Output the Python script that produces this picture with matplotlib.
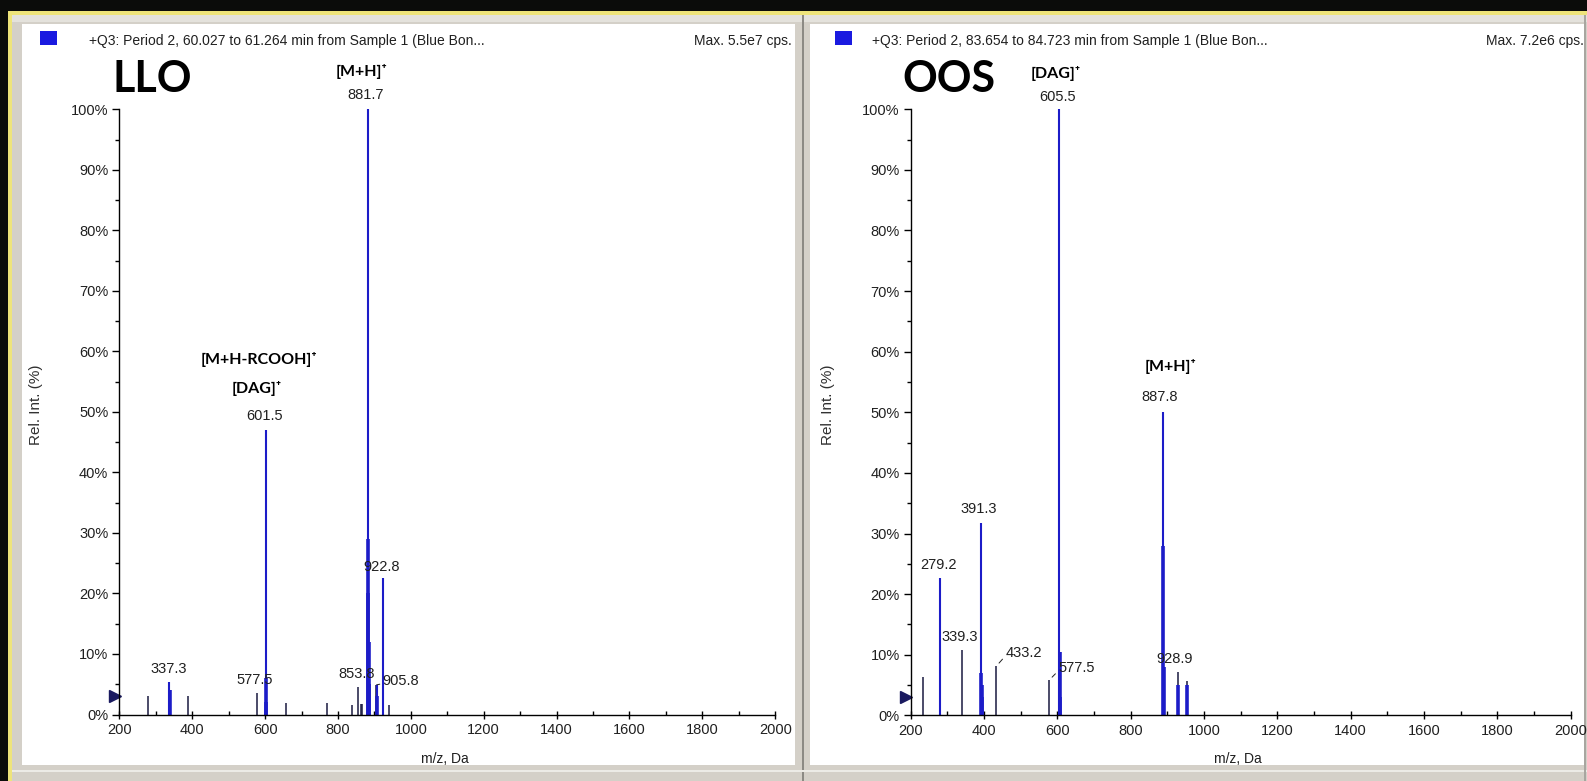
import matplotlib
matplotlib.use('Agg')
import matplotlib.pyplot as plt
from matplotlib.patches import Rectangle
from matplotlib.ticker import MultipleLocator, FuncFormatter

# LLO spectrum: sticks (m/z, rel. intensity %)
llo_blue_mz = [337.3, 601.5, 881.7, 905.8, 922.8]
llo_blue_int = [5.4, 47.0, 100.0, 4.9, 22.6]
llo_iso_mz = [338.3, 602.5, 603.5, 882.7, 883.7, 884.7, 885.7, 906.8]
llo_iso_int = [4.0, 6.0, 2.0, 29.0, 20.0, 12.0, 5.0, 3.0]
llo_black_mz = [279.0, 389.0, 577.5, 657.0, 769.0, 839.0, 853.8, 863.0, 867.0, 903.0, 939.0]
llo_black_int = [3.0, 3.0, 3.5, 1.9, 1.9, 1.5, 4.5, 1.8, 1.8, 4.9, 1.5]
llo_labels = [337.3, 577.5, 601.5, 853.8, 881.7, 905.8, 922.8]
llo_label_int = [5.4, 3.5, 47.0, 4.5, 100.0, 4.9, 22.6]

# OOS spectrum
oos_blue_mz = [279.2, 391.3, 605.5, 887.8]
oos_blue_int = [22.7, 31.8, 100.0, 50.0]
oos_iso_mz = [392.3, 393.3, 394.3, 606.5, 607.5, 888.8, 889.8, 929.9, 954.0]
oos_iso_int = [7.0, 5.0, 3.0, 10.5, 3.0, 28.0, 8.0, 5.0, 5.0]
oos_black_mz = [234.0, 339.3, 433.2, 577.5, 928.9, 953.0]
oos_black_int = [6.3, 10.7, 8.1, 5.8, 7.2, 5.7]
oos_labels = [279.2, 339.3, 391.3, 433.2, 577.5, 605.5, 887.8, 928.9]
oos_label_int = [22.7, 10.7, 31.8, 8.1, 5.8, 100.0, 50.0, 7.2]

llo_header = '+Q3: Period 2, 60.027 to 61.264 min from Sample 1 (Blue Bon...'
oos_header = '+Q3: Period 2, 83.654 to 84.723 min from Sample 1 (Blue Bon...'
llo_max = 'Max. 5.5e7 cps.'
oos_max = 'Max. 7.2e6 cps.'

W, H = 1587, 781
BLUE = '#1c1cc8'
NAVY = '#1a1a40'
GRAY = '#d4d0c8'
FONT = ['Liberation Sans', 'DejaVu Sans']
BOLD = ['Lato', 'DejaVu Sans']

fig = plt.figure(figsize=(W / 100, H / 100), dpi=100)
fig.patch.set_facecolor('#0b0c0a')


def fx(x):
    return x / W


def fy(y):
    return 1 - y / H


def box(x0, y0, x1, y1, color):
    fig.add_artist(Rectangle((fx(x0), fy(y1)), (x1 - x0) / W, (y1 - y0) / H,
                             transform=fig.transFigure, facecolor=color,
                             edgecolor='none', zorder=-5))


# window chrome
box(8, 11, W, 15, '#eee47a')
box(8, 11, 12, H, '#eee47a')
box(12, 15, W, H, GRAY)
box(22, 24, 795, 765, 'white')
box(810, 24, 1584, 765, 'white')
box(12, 15, W, 22, '#e4e2dc')
box(802, 15, 804, 781, '#8c8a84')
box(12, 770, W, 772, '#ecebe6')
box(1584, 15, 1586, 781, '#a8a6a0')


def setup(ax):
    ax.set_facecolor('none')
    ax.set_xlim(200, 2000)
    ax.set_ylim(0, 100)
    for s in ['top', 'right']:
        ax.spines[s].set_visible(False)
    for s in ['left', 'bottom']:
        ax.spines[s].set_linewidth(1.0)
    ax.xaxis.set_major_locator(MultipleLocator(200))
    ax.xaxis.set_minor_locator(MultipleLocator(100))
    ax.yaxis.set_major_locator(MultipleLocator(10))
    ax.yaxis.set_minor_locator(MultipleLocator(5))
    ax.yaxis.set_major_formatter(FuncFormatter(lambda v, p: '%d%%' % v))
    ax.tick_params(axis='x', which='major', direction='inout', length=6, width=1, pad=3)
    ax.tick_params(axis='x', which='minor', direction='in', length=3, width=1)
    ax.tick_params(axis='y', which='major', direction='out', length=5, width=1, pad=3)
    ax.tick_params(axis='y', which='minor', direction='out', length=3, width=1)
    for lab in ax.get_xticklabels() + ax.get_yticklabels():
        lab.set_fontfamily(FONT)
        lab.set_fontsize(10.5)
        lab.set_color('#202020')
    ax.plot([188], [3], marker='>', color='#1a1a60', markersize=8, clip_on=False)


def draw(ax, bmz, bint, imz, iint, kmz, kint):
    ax.vlines(kmz, 0, kint, colors=NAVY, linewidth=1.1)
    ax.vlines(imz, 0, iint, colors=BLUE, linewidth=2.6)
    ax.vlines(bmz, 0, bint, colors=BLUE, linewidth=1.5)


def labels(ax, mzs, ints, offsets):
    for mz, it, (dx, dy, lead) in zip(mzs, ints, offsets):
        if lead:
            ax.annotate('%.1f' % mz, (mz, it), xytext=(dx, dy), textcoords='offset pixels',
                        ha='left', va='center', fontsize=10.5, family=FONT, color='#202020',
                        arrowprops=dict(arrowstyle='-', color='#202020', lw=0.7,
                                        shrinkA=0, shrinkB=3, relpos=(0, 0.3)))
        else:
            ax.annotate('%.1f' % mz, (mz, it), xytext=(dx, dy), textcoords='offset pixels',
                        ha='center', va='center', fontsize=10.5, family=FONT, color='#202020')


ax1 = fig.add_axes([fx(119.4), fy(714.5), (775.2 - 119.4) / W, (714.5 - 109.3) / H])
ax2 = fig.add_axes([fx(910.8), fy(715.3), (1570.6 - 910.8) / W, (715.3 - 109.3) / H])
setup(ax1)
setup(ax2)
draw(ax1, llo_blue_mz, llo_blue_int, llo_iso_mz, llo_iso_int, llo_black_mz, llo_black_int)
draw(ax2, oos_blue_mz, oos_blue_int, oos_iso_mz, oos_iso_int, oos_black_mz, oos_black_int)

labels(ax1, llo_labels, llo_label_int,
       [(-1, 13, False), (-2, 13, False), (-1, 14, False), (-1, 13, False),
        (-2, 14, False), (6, 4, True), (-1, 11, False)])
labels(ax2, oos_labels, oos_label_int,
       [(-1, 13, False), (-2, 13, False), (-2, 14, False), (9, 13, True),
        (9, 12, True), (-2, 12, False), (-3, 15, False), (-3, 13, False)])

# ion assignments
ann = dict(textcoords='offset pixels', ha='center', va='center', fontsize=11.5,
           fontweight='bold', family=BOLD, color='black')
ax1.annotate('[M+H]⁺', (881.7, 100), xytext=(-6, 38), **ann)
ax1.annotate('[M+H-RCOOH]⁺', (601.5, 47), xytext=(-7, 71), **ann)
ax1.annotate('[DAG]⁺', (601.5, 47), xytext=(-9, 42), **ann)
ax2.annotate('[DAG]⁺', (605.5, 100), xytext=(-4, 36), **ann)
ax2.annotate('[M+H]⁺', (887.8, 50), xytext=(8, 46), **ann)

# panel titles and headers
fig.text(fx(112), fy(79), 'LLO', fontsize=31, fontweight='bold', family=BOLD, va='center')
fig.text(fx(902), fy(79), 'OOS', fontsize=31, fontweight='bold', family=BOLD, va='center')
for x0, sq, txt, mx_r, mx in [(89, 40, llo_header, 792, llo_max),
                              (872, 835, oos_header, 1584, oos_max)]:
    box(sq, 31, sq + 17, 45, '#1a1ae0')
    fig.text(fx(x0), fy(41), txt, fontsize=10, family=FONT, va='center', color='#202020')
    fig.text(fx(mx_r), fy(41), mx, fontsize=10, family=FONT, va='center', ha='right', color='#202020')

for xc, xl in [(36, 445), (828, 1238)]:
    fig.text(fx(xc), fy(405), 'Rel. Int. (%)', rotation=90, fontsize=11, family=FONT,
             ha='center', va='center', color='#303030')
    fig.text(fx(xl), fy(759), 'm/z, Da', fontsize=10, family=FONT,
             ha='center', va='center', color='#202020')

fig.savefig('out.png', dpi=100, facecolor=fig.get_facecolor())
